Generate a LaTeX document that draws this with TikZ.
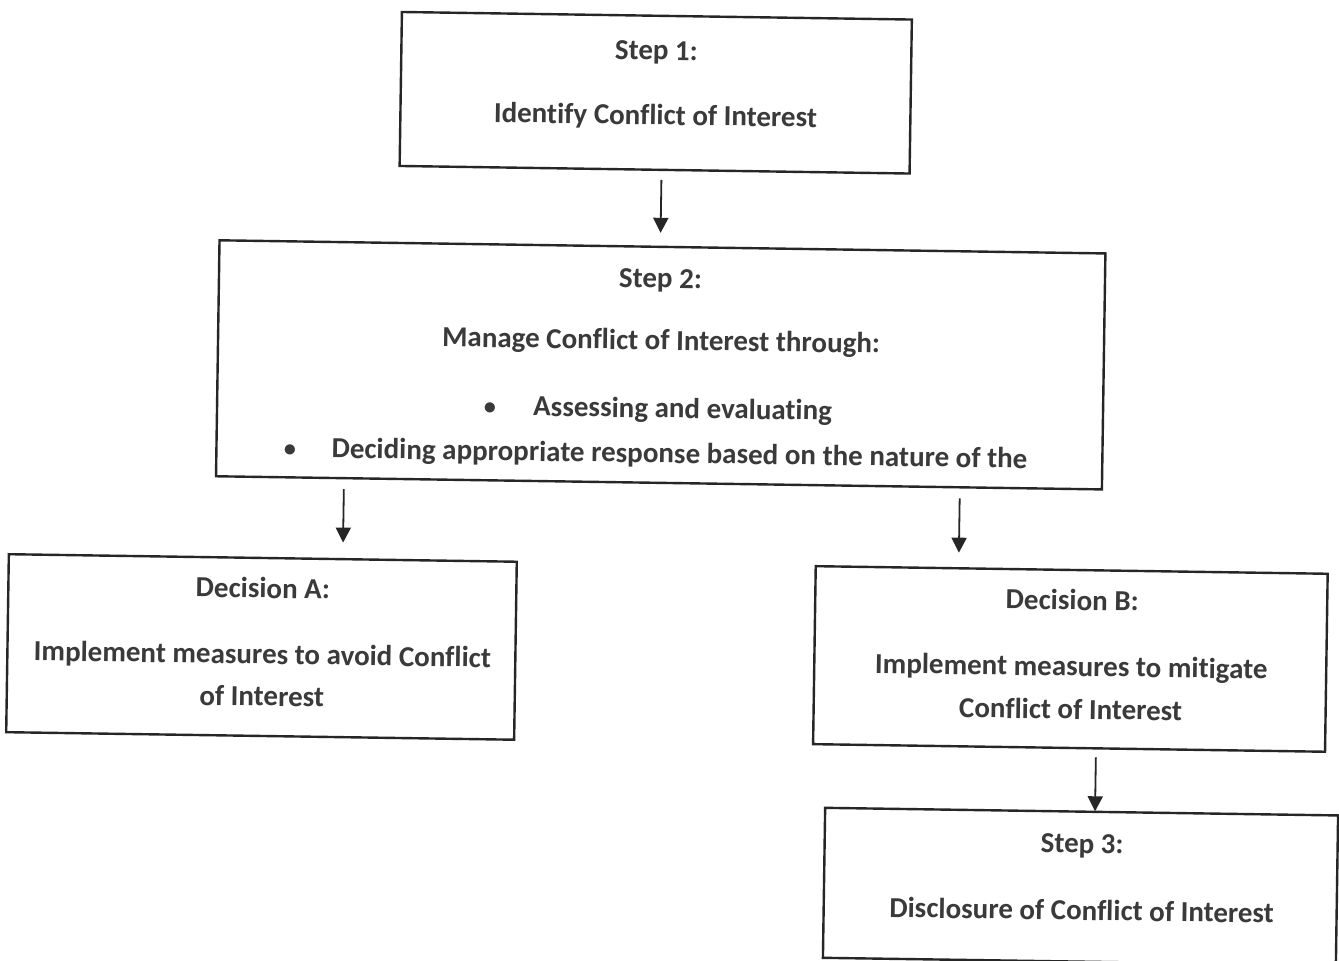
\documentclass[tikz,border=0pt]{standalone}
\usepackage{fontspec}
\setmainfont{Carlito}[Ligatures={NoCommon,NoContextual}]
\usetikzlibrary{arrows.meta,calc}
\definecolor{ink}{HTML}{3A3A3A}
\definecolor{frame}{HTML}{262626}
\begin{document}
\begin{tikzpicture}[x=1pt,y=-1pt,
  box/.style={draw=frame, line width=2.4pt, rectangle, inner sep=0pt, outer sep=0pt},
  txt/.style={text=ink, font=\fontsize{29}{35}\selectfont\bfseries, inner sep=0pt, anchor=base},
  txtw/.style={txt, anchor=base west},
  bul/.style={text=ink, font=\fontsize{24}{28}\selectfont\bfseries, inner sep=0pt, anchor=center},
  arr/.style={draw=frame, line width=1.8pt, -{Triangle[length=15pt,width=15pt]}}]
\useasboundingbox (0,0) rectangle (1339,961);
\fill[white] (0,0) rectangle (1339,961);
\begin{scope}[rotate around={-0.85:(670,480)}, transform shape]
% boxes
\node[box, minimum width=510pt, minimum height=154pt] (s1) at (650,93) {};
\node[box, minimum width=886pt, minimum height=236pt] (s2) at (659,365) {};
\node[box, minimum width=508pt, minimum height=178pt] (dA) at (264,653) {};
\node[box, minimum width=512pt, minimum height=178pt] (dB) at (1073,653) {};
\node[box, minimum width=513pt, minimum height=150pt] (s3) at (1086.5,880.5) {};
% texts step 1
\node[txt] (s1a) at (650,60) {Step 1:};
\node[txt] (s1b) at (650,125) {Identify Conflict of Interest};
% step 2
\node[txt] (s2a) at (657.5,288) {Step 2:};
\node[txt] (s2b) at (659,350) {Manage Conflict of Interest through:};
\node[bul] (b1) at (489,411) {•};
\node[txtw] (s2c) at (532,418) {Assessing and evaluating};
\node[bul] (b2) at (289.6,456.5) {•};
\node[txtw] (s2d) at (331,463) {Deciding appropriate response based on the nature of the};
% decision A
\node[txt] (dAa) at (264.5,604) {Decision A:};
\node[txt] (dAb) at (265,670) {Implement measures to avoid Conflict};
\node[txt] (dAc) at (265,712) {of Interest};
% decision B
\node[txt] (dBa) at (1074,604) {Decision B:};
\node[txt] (dBb) at (1074,670) {Implement measures to mitigate};
\node[txt] (dBc) at (1074,713) {Conflict of Interest};
% step 3
\node[txt] (s3a) at (1087.5,847) {Step 3:};
\node[txt] (s3b) at (1088,914) {Disclosure of Conflict of Interest};
% arrows
\draw[arr, shorten <=10pt, shorten >=14pt]
  ($(s1.south west)!0.5137!(s1.south east)$) -- ($(s2.north west)!0.4977!(s2.north east)$);
\draw[arr, shorten <=11pt, shorten >=16.5pt]
  ($(s2.south west)!0.1445!(s2.south east)$) -- ($(dA.north west)!0.6575!(dA.north east)$);
\draw[arr, shorten <=11pt, shorten >=15.6pt]
  ($(s2.south west)!0.8397!(s2.south east)$) -- ($(dB.north west)!0.2793!(dB.north east)$);
\draw[arr, shorten <=9pt, shorten >=0.5pt]
  ($(dB.south west)!0.5527!(dB.south east)$) -- ($(s3.north west)!0.5263!(s3.north east)$);
\end{scope}
\end{tikzpicture}
\end{document}
